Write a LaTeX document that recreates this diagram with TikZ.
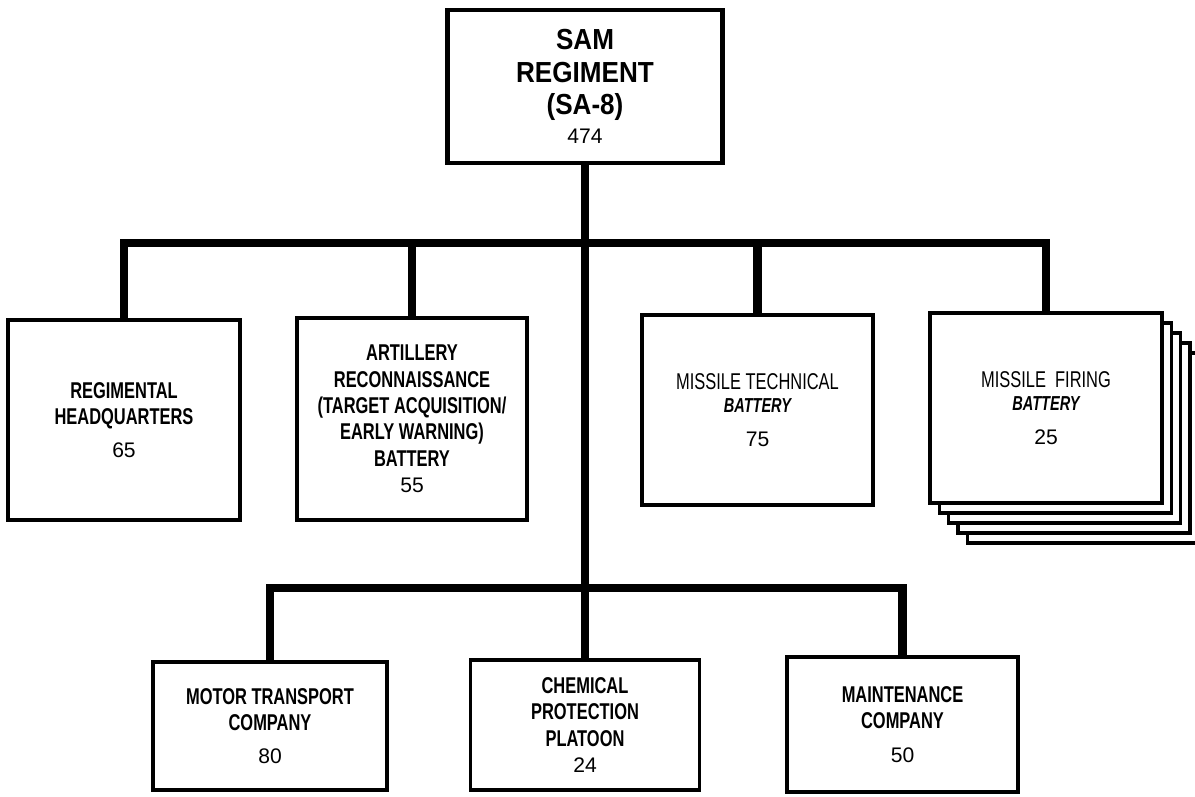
\documentclass[tikz,border=0pt]{standalone}
\usepackage{fontspec}
\setmainfont{Liberation Sans}
\newfontfamily\narrowfont[FakeStretch=0.72]{Liberation Sans}
\newfontfamily\widerfont[FakeStretch=0.9]{Liberation Sans}
\newcommand{\namefont}{\narrowfont\bfseries\fontsize{13}{15}\selectfont}
\newcommand{\numfont}{\rmfamily\mdseries\upshape\fontsize{12}{14}\selectfont}
\begin{document}
\begin{tikzpicture}[x=0.02cm,y=-0.02cm,
  unit/.style={draw,line width=2pt,fill=white,minimum width=4.62cm,align=center,inner sep=0pt,font=\namefont},
  conn/.style={line width=5pt}]
\useasboundingbox (0,0) rectangle (1195,796);
% regiment
\node[draw,line width=2.4pt,fill=white,minimum width=5.5cm,minimum height=3.06cm,align=center,
  font=\widerfont\bfseries\fontsize{16.5}{18.5}\selectfont] (sam) at (585,86.5)
  {SAM\\REGIMENT\\(SA-8)\\[-2pt]{\numfont 474}};
% firing batteries, stacked copies behind
\foreach \i in {4,3,2,1}
  \draw[line width=1.8pt,fill=white,shift={(\i*9.3,\i*10)}] (930,313) rectangle (1162,503);
\node[unit,minimum width=4.64cm,minimum height=4cm] (hq) at (124,420)
  {REGIMENTAL\\HEADQUARTERS\\[3.5pt]{\numfont 65}};
\node[unit,minimum width=4.6cm,minimum height=4.04cm] (arty) at (412,419)
  {ARTILLERY\\RECONNAISSANCE\\(TARGET ACQUISITION/\\EARLY WARNING)\\BATTERY\\{\numfont 55}};
\node[unit,minimum height=3.8cm] (tech) at (757.5,410)
  {{\mdseries MISSILE TECHNICAL}\\[-2pt]{\itshape\fontsize{11.5}{13}\selectfont BATTERY}\\[4pt]{\numfont 75}};
\node[unit,minimum width=4.64cm,minimum height=3.8cm] (fire) at (1046,408)
  {{\mdseries MISSILE\ \ FIRING}\\[-2pt]{\itshape\fontsize{11.5}{13}\selectfont BATTERY}\\[4pt]{\numfont 25}};
% support units
\node[unit,minimum width=4.68cm,minimum height=2.56cm] (motor) at (270,726)
  {MOTOR TRANSPORT\\COMPANY\\[4pt]{\numfont 80}};
\node[unit,minimum width=4.58cm,minimum height=2.6cm] (chem) at (585,725)
  {CHEMICAL\\PROTECTION\\PLATOON\\{\numfont 24}};
\node[unit,minimum height=2.7cm] (maint) at (902.5,724.5)
  {MAINTENANCE\\COMPANY\\[4pt]{\numfont 50}};
% connectors
\coordinate (bus) at (585,243);
\coordinate (lowbus) at (585,588);
\draw[conn] (sam.south) -- (chem.north);
\draw[conn] (hq.north) |- (bus) -| (fire.north);
\draw[conn] (arty.north) -- (arty.north |- bus);
\draw[conn] (tech.north) -- (tech.north |- bus);
\draw[conn] (motor.north) |- (lowbus) -| (maint.north);
\end{tikzpicture}
\end{document}
